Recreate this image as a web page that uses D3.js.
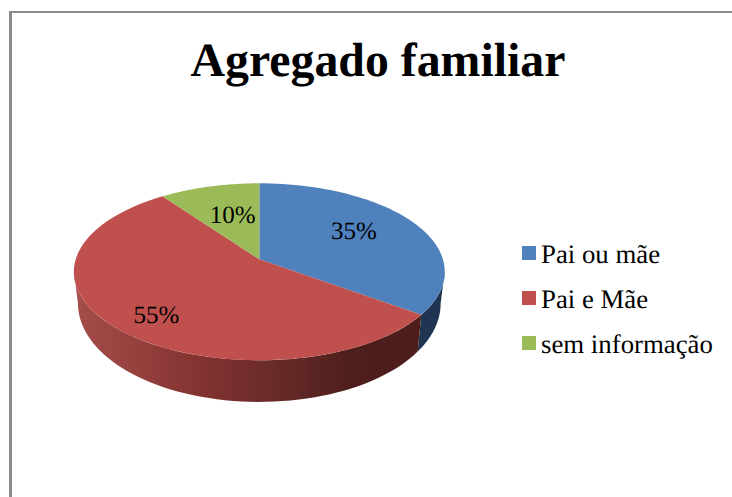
<!DOCTYPE html>
<html>
<head>
<meta charset="utf-8">
<script src="https://cdn.jsdelivr.net/npm/d3@7"></script>
<style>
  html, body { margin: 0; padding: 0; background: #fff; }
  svg { display: block; }
  text { font-family: "Liberation Serif", serif; fill: #000; text-rendering: geometricPrecision; }
</style>
</head>
<body>
<div id="chart"></div>
<script>
// --- dados ---
const categories = ["Pai ou mãe", "Pai e Mãe", "sem informação"];
const values = [35, 55, 10];
const colors = ["#4f81bd", "#c0504d", "#9bbb59"];
const chartTitle = "Agregado familiar";

const width = 732, height = 497;
const svg = d3.select("#chart").append("svg").attr("width", width).attr("height", height);
const defs = svg.append("defs");

// moldura (so esquerda e topo ficam dentro do recorte)
svg.append("rect").attr("x", 9).attr("y", 11).attr("width", 3).attr("height", height - 11).attr("fill", "#8c8c8c");
svg.append("rect").attr("x", 9).attr("y", 11).attr("width", width - 9).attr("height", 2).attr("fill", "#8c8c8c");

svg.append("text")
  .attr("x", 378).attr("y", 76)
  .attr("text-anchor", "middle")
  .style("font-size", "47.8px").style("font-weight", "700")
  .text(chartTitle);

// --- pizza em perspectiva: o circulo vira elipse e o centro fica deslocado ---
const cx = 259.3, cy = 259.3;
const persp = 0.141, rx = 183.6, ry = 86.7;

const total = d3.sum(values);
const color = d3.scaleOrdinal().domain(categories).range(colors);
const pie = d3.pie().sort(null).value(d => d.value).startAngle(0).endAngle(2 * Math.PI);
const arcs = pie(categories.map((c, i) => ({ name: c, value: values[i] })));

function project(a, r = 1) {
  const u = r * Math.sin(a), v = -r * Math.cos(a);
  const w = 1 - persp * v;
  return [cx + rx * u / w, cy + ry * v / w];
}
// borda inferior: mais estreita e com altura maior na frente
function projectLow(a) {
  const [x, y] = project(a);
  const v = -Math.cos(a);
  return [cx + (x - cx) * 0.978, y + 29.6 + 12.1 * v];
}

const line = d3.line();
const samples = (a0, a1) => d3.range(0, 61).map(i => a0 + (a1 - a0) * i / 60);

// paredes laterais
const sideEnd = 262 * Math.PI / 180, sideStart = 98 * Math.PI / 180;

const gradRed = defs.append("linearGradient").attr("id", "sideRed")
  .attr("gradientUnits", "userSpaceOnUse")
  .attr("x1", 74).attr("x2", 420).attr("y1", 0).attr("y2", 0);
[[0, "#a54e4b"], [0.35, "#853432"], [0.62, "#642927"], [0.8, "#4e1e1c"], [1, "#4c1d1b"]]
  .forEach(s => gradRed.append("stop").attr("offset", s[0]).attr("stop-color", s[1]));

const sides = [
  { a0: sideStart, a1: arcs[0].endAngle, fill: "#1f3552" },
  { a0: arcs[0].endAngle, a1: sideEnd, fill: "url(#sideRed)" }
];
svg.append("g").selectAll("path").data(sides).join("path")
  .attr("d", d => line(samples(d.a0, d.a1).map(a => project(a))
      .concat(samples(d.a0, d.a1).reverse().map(projectLow))) + "Z")
  .attr("fill", d => d.fill);

// fatias de cima
svg.append("g").selectAll("path").data(arcs).join("path")
  .attr("d", d => line([[cx, cy]].concat(samples(d.startAngle, d.endAngle).map(a => project(a)))) + "Z")
  .attr("fill", d => color(d.data.name));

// rotulos (mesma ordem de categories)
const labelRadius = [0.6, 0.735, 0.5];
const labelDy = [2.4, 15, 2.4];
svg.append("g").selectAll("text").data(arcs).join("text")
  .attr("x", d => project((d.startAngle + d.endAngle) / 2, labelRadius[d.index])[0])
  .attr("y", d => project((d.startAngle + d.endAngle) / 2, labelRadius[d.index])[1] + labelDy[d.index])
  .attr("text-anchor", "middle")
  .style("font-size", "25px")
  .text(d => Math.round(d.value / total * 100) + "%");

// --- legenda ---
const legendY = d3.scalePoint().domain(categories).range([253, 343]);
const legend = svg.append("g").selectAll("g").data(categories).join("g")
  .attr("transform", d => `translate(522,${legendY(d)})`);
legend.append("rect")
  .attr("x", 0).attr("y", -7).attr("width", 14).attr("height", 14)
  .attr("fill", d => color(d));
legend.append("text")
  .attr("x", 19).attr("y", 9.5)
  .style("font-size", "26.8px")
  .text(d => d);
</script>
</body>
</html>
